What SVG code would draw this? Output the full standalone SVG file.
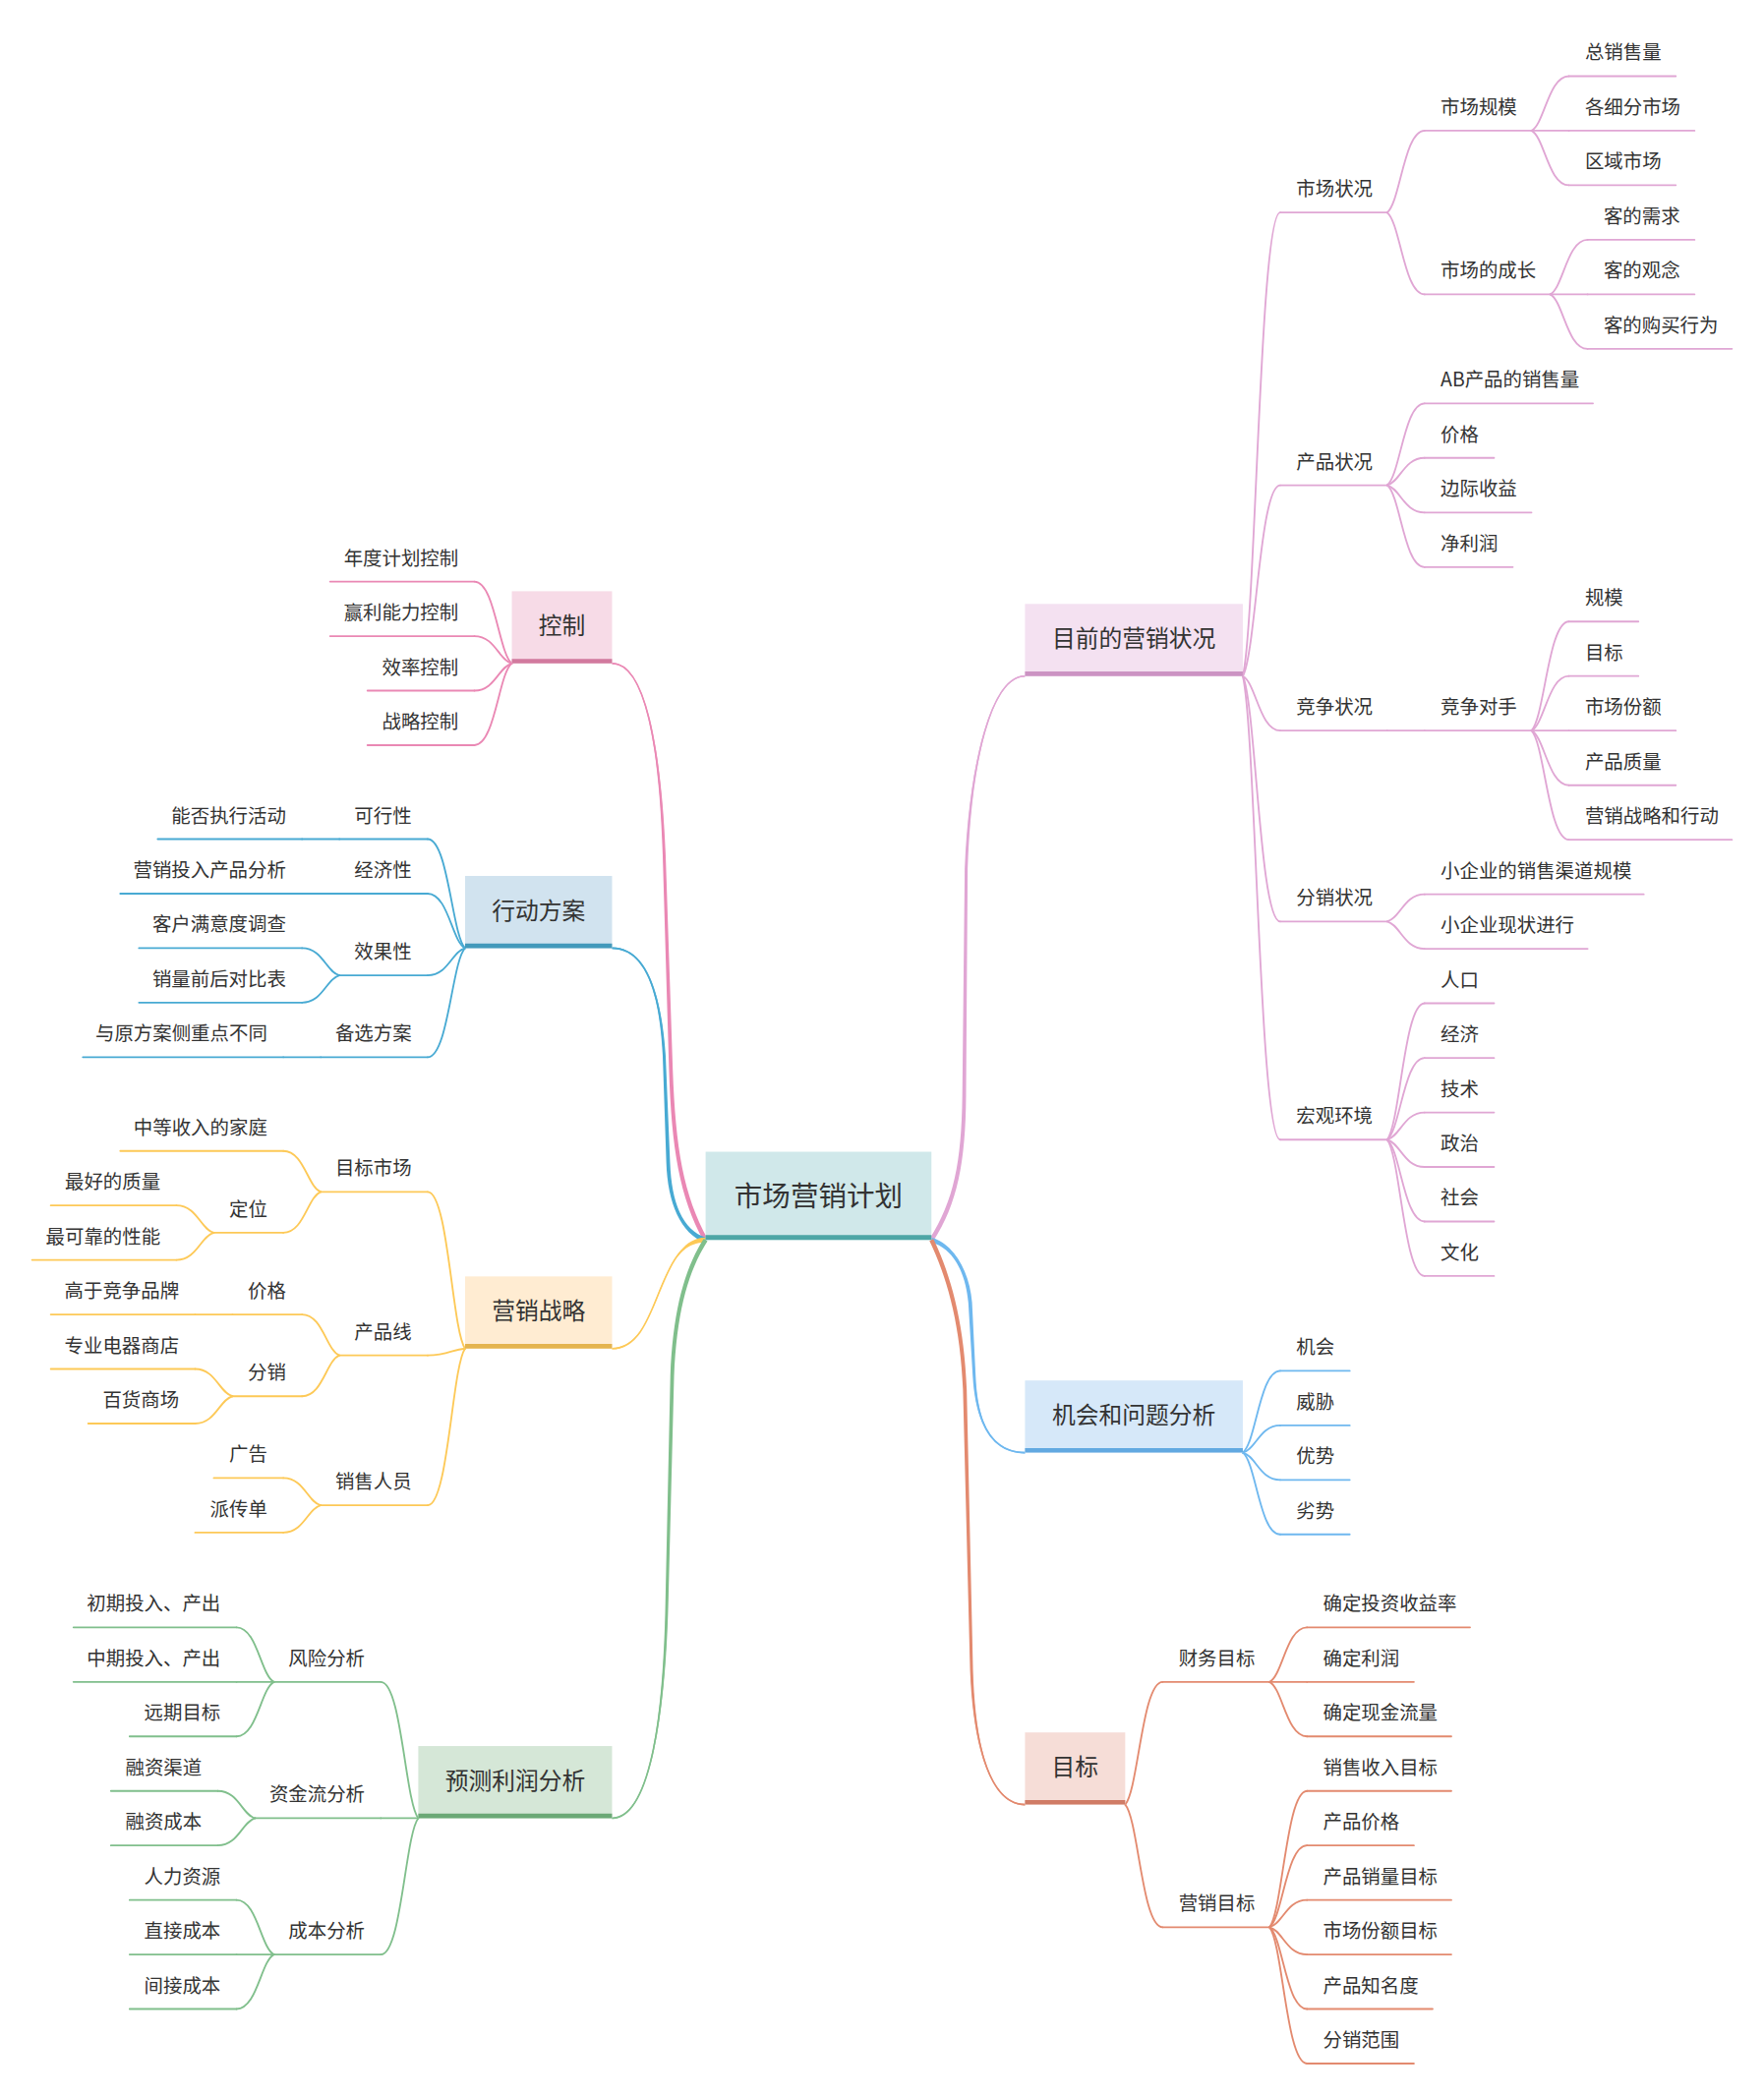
<svg xmlns="http://www.w3.org/2000/svg" width="1794" height="2131" viewBox="0 0 1794 2131">
<style>
text{font-family:"Noto Sans CJK SC","Noto Sans",sans-serif;fill:#333}
.t{font-size:14.3px}
.r{text-anchor:end}
.tm{font-size:17.5px;text-anchor:middle}
.tc{font-size:21px;text-anchor:middle}
.conn path,.ul{fill:none;stroke-width:1.35;stroke-linecap:round}
.ms{fill:none;stroke-width:1.2}
.bl{stroke-width:3.4}
.ca{stroke:#e0a6d4}.cb{stroke:#6fb8ef}.cc{stroke:#e38a6f}.cd{stroke:#ea88b4}.ce{stroke:#48aad3}.cf{stroke:#fdc957}.cg{stroke:#80bf8c}
.fa{fill:#e0a6d4}.fb{fill:#6fb8ef}.fc{fill:#e38a6f}.fd{fill:#ea88b4}.fe{fill:#48aad3}.ff{fill:#fdc957}.fg{fill:#80bf8c}
</style>
<rect width="1794" height="2131" fill="#ffffff"/>
<g transform="scale(1.359091)">
<g id="connectors">
<g id="main-connectors">
<path class="fd" d="M458,497.1 C483,497.1 493.2,560 495.9,640 L500.6,800 C502.5,860 508.5,895.8 526.5,928.8 L529.5,927.2 C511.5,894.2 505.5,860 503.4,800 L498.1,640 C494.8,560 483,495.9 458,495.9 Z"/>
<path class="ms cd" d="M458,496.5 C483,496.5 494,560 497,640 L502,800 C504,860 510,895 528,928"/>
<path class="fe" d="M458,709 C482,709 494.8,740 498.1,790 L501.4,870 C502.5,900 510.54,920.38 528.54,926.38 L527.46,929.62 C509.46,923.62 499.5,900 498.6,870 L495.9,790 C493.2,740 482,710.2 458,710.2 Z"/>
<path class="ms ce" d="M458,709.6 C482,709.6 494,740 497,790 L500,870 C501,900 510,922 528,928"/>
<path class="ff" d="M458,1008.7 C495.8,1008.4 491.5,926.4 528,926.1 L528,929.9 C488.5,929.6 494.2,1010.2 458,1009.9 Z"/>
<path class="ms cf" d="M458,1009.3 C495,1009.3 490,928 528,928"/>
<path class="fg" d="M458,1361.4 C485,1361.4 497.8,1290 500.1,1200 L504.4,1030 C506.5,980 515.4,950.9 529.4,928.9 L526.6,927.1 C512.6,949.1 503.5,980 501.6,1030 L497.9,1200 C496.2,1290 485,1360.2 458,1360.2 Z"/>
<path class="ms cg" d="M458,1360.8 C485,1360.8 497,1290 499,1200 L503,1030 C505,980 514,950 528,928"/>
<path class="fa" d="M767,505.4 C742,505.4 725.2,570 721.9,650 L720.1,820 C719.5,870 713.6,899.1 695.6,927.1 L698.4,928.9 C716.4,900.9 722.5,870 722.9,820 L724.1,650 C726.8,570 742,506.6 767,506.6 Z"/>
<path class="ms ca" d="M767,506 C742,506 726,570 723,650 L721.5,820 C721,870 715,900 697,928"/>
<path class="fb" d="M767,1086.6 C745,1086.6 731.8,1070 730.1,1030 L727.4,975 C725.5,950 712.4,930.4 697.4,926.4 L696.6,929.6 C711.6,933.6 722.5,950 724.6,975 L727.9,1030 C730.2,1070 745,1087.8 767,1087.8 Z"/>
<path class="ms cb" d="M767,1087.2 C745,1087.2 731,1070 729,1030 L726,975 C724,950 712,932 697,928"/>
<path class="fc" d="M767,1350 C742,1350 729.8,1310 728.1,1250 L723.4,1040 C721.5,990 711.5,954.3 698.5,927.3 L695.5,928.7 C708.5,955.7 718.5,990 720.6,1040 L725.9,1250 C728.2,1310 742,1351.2 767,1351.2 Z"/>
<path class="ms cc" d="M767,1350.6 C742,1350.6 729,1310 727,1250 L722,1040 C720,990 710,955 697,928"/>
</g>
<g class="conn">
<path class="ca" d="M930,506 C939.8,464.4 942.6,159.05 958,159.05"/>
<path class="ca" d="M930,506 C939.8,488.9 942.6,363.15 958,363.15"/>
<path class="ca" d="M930,506 C939.8,510.9 942.6,546.8 958,546.8"/>
<path class="ca" d="M930,506 C939.8,528 942.6,689.7 958,689.7"/>
<path class="ca" d="M930,506 C939.8,547.6 942.6,852.95 958,852.95"/>
<path class="ca" d="M1038,159.05 C1047.8,151.7 1050.6,97.8 1066,97.8"/>
<path class="ca" d="M1038,159.05 C1047.8,166.4 1050.6,220.3 1066,220.3"/>
<path class="ca" d="M1146,97.8 C1155.8,92.9 1158.6,57 1174,57"/>
<path class="ca" d="M1146,97.8 L1174,97.8"/>
<path class="ca" d="M1146,97.8 C1155.8,102.7 1158.6,138.6 1174,138.6"/>
<path class="ca" d="M1160,220.3 C1169.8,215.4 1172.6,179.5 1188,179.5"/>
<path class="ca" d="M1160,220.3 L1188,220.3"/>
<path class="ca" d="M1160,220.3 C1169.8,225.2 1172.6,261.1 1188,261.1"/>
<path class="ca" d="M1038,363.15 C1047.8,355.8 1050.6,301.9 1066,301.9"/>
<path class="ca" d="M1038,363.15 C1047.8,360.7 1050.6,342.7 1066,342.7"/>
<path class="ca" d="M1038,363.15 C1047.8,365.6 1050.6,383.6 1066,383.6"/>
<path class="ca" d="M1038,363.15 C1047.8,370.5 1050.6,424.4 1066,424.4"/>
<path class="ca" d="M1038,546.8 L1066,546.8"/>
<path class="ca" d="M1146,546.8 C1155.8,537 1158.6,465.2 1174,465.2"/>
<path class="ca" d="M1146,546.8 C1155.8,541.9 1158.6,506 1174,506"/>
<path class="ca" d="M1146,546.8 L1174,546.8"/>
<path class="ca" d="M1146,546.8 C1155.8,551.7 1158.6,587.7 1174,587.7"/>
<path class="ca" d="M1146,546.8 C1155.8,556.6 1158.6,628.5 1174,628.5"/>
<path class="ca" d="M1038,689.7 C1047.8,687.3 1050.6,669.3 1066,669.3"/>
<path class="ca" d="M1038,689.7 C1047.8,692.1 1050.6,710.1 1066,710.1"/>
<path class="ca" d="M1038,852.95 C1047.8,840.7 1050.6,750.9 1066,750.9"/>
<path class="ca" d="M1038,852.95 C1047.8,845.6 1050.6,791.8 1066,791.8"/>
<path class="ca" d="M1038,852.95 C1047.8,850.5 1050.6,832.6 1066,832.6"/>
<path class="ca" d="M1038,852.95 C1047.8,855.4 1050.6,873.4 1066,873.4"/>
<path class="ca" d="M1038,852.95 C1047.8,860.3 1050.6,914.2 1066,914.2"/>
<path class="ca" d="M1038,852.95 C1047.8,865.2 1050.6,955 1066,955"/>
<path class="cb" d="M930,1087.2 C939.8,1079.9 942.6,1026 958,1026"/>
<path class="cb" d="M930,1087.2 C939.8,1084.8 942.6,1066.8 958,1066.8"/>
<path class="cb" d="M930,1087.2 C939.8,1089.6 942.6,1107.6 958,1107.6"/>
<path class="cb" d="M930,1087.2 C939.8,1094.5 942.6,1148.4 958,1148.4"/>
<path class="cc" d="M842,1350.6 C851.8,1339.6 854.6,1258.8 870,1258.8"/>
<path class="cc" d="M842,1350.6 C851.8,1361.6 854.6,1442.4 870,1442.4"/>
<path class="cc" d="M950,1258.8 C959.8,1253.9 962.6,1218 978,1218"/>
<path class="cc" d="M950,1258.8 L978,1258.8"/>
<path class="cc" d="M950,1258.8 C959.8,1263.7 962.6,1299.6 978,1299.6"/>
<path class="cc" d="M950,1442.4 C959.8,1430.2 962.6,1340.4 978,1340.4"/>
<path class="cc" d="M950,1442.4 C959.8,1435.1 962.6,1381.2 978,1381.2"/>
<path class="cc" d="M950,1442.4 C959.8,1440 962.6,1422 978,1422"/>
<path class="cc" d="M950,1442.4 C959.8,1444.8 962.6,1462.8 978,1462.8"/>
<path class="cc" d="M950,1442.4 C959.8,1449.7 962.6,1503.6 978,1503.6"/>
<path class="cc" d="M950,1442.4 C959.8,1454.6 962.6,1544.4 978,1544.4"/>
<path class="cd" d="M383,496.5 C373.2,489.2 370.4,435.3 355,435.3"/>
<path class="cd" d="M383,496.5 C373.2,494.1 370.4,476.1 355,476.1"/>
<path class="cd" d="M383,496.5 C373.2,498.9 370.4,516.9 355,516.9"/>
<path class="cd" d="M383,496.5 C373.2,503.8 370.4,557.7 355,557.7"/>
<path class="ce" d="M348,709.6 C338.2,699.8 335.4,628 320,628"/>
<path class="ce" d="M348,709.6 C338.2,704.7 335.4,668.8 320,668.8"/>
<path class="ce" d="M348,709.6 C338.2,712 335.4,730 320,730"/>
<path class="ce" d="M348,709.6 C338.2,719.4 335.4,791.2 320,791.2"/>
<path class="ce" d="M254,628 L226,628"/>
<path class="ce" d="M254,668.8 L226,668.8"/>
<path class="ce" d="M254,730 C244.2,727.6 241.4,709.6 226,709.6"/>
<path class="ce" d="M254,730 C244.2,732.4 241.4,750.4 226,750.4"/>
<path class="ce" d="M240,791.2 L212,791.2"/>
<path class="cf" d="M348,1009.3 C338.2,995.2 335.4,892 320,892"/>
<path class="cf" d="M348,1009.3 C338.2,1009.9 335.4,1014.4 320,1014.4"/>
<path class="cf" d="M348,1009.3 C338.2,1023.4 335.4,1126.6 320,1126.6"/>
<path class="cf" d="M240,892 C230.2,888.3 227.4,861.4 212,861.4"/>
<path class="cf" d="M240,892 C230.2,895.7 227.4,922.6 212,922.6"/>
<path class="cf" d="M160,922.6 C150.2,920.2 147.4,902.2 132,902.2"/>
<path class="cf" d="M160,922.6 C150.2,925 147.4,943 132,943"/>
<path class="cf" d="M254,1014.4 C244.2,1010.7 241.4,983.8 226,983.8"/>
<path class="cf" d="M254,1014.4 C244.2,1018.1 241.4,1045 226,1045"/>
<path class="cf" d="M174,983.8 L146,983.8"/>
<path class="cf" d="M174,1045 C164.2,1042.6 161.4,1024.6 146,1024.6"/>
<path class="cf" d="M174,1045 C164.2,1047.4 161.4,1065.4 146,1065.4"/>
<path class="cf" d="M240,1126.6 C230.2,1124.2 227.4,1106.2 212,1106.2"/>
<path class="cf" d="M240,1126.6 C230.2,1129 227.4,1147 212,1147"/>
<path class="cg" d="M313,1360.8 C303.2,1348.6 300.4,1258.8 285,1258.8"/>
<path class="cg" d="M313,1360.8 L285,1360.8"/>
<path class="cg" d="M313,1360.8 C303.2,1373 300.4,1462.8 285,1462.8"/>
<path class="cg" d="M205,1258.8 C195.2,1253.9 192.4,1218 177,1218"/>
<path class="cg" d="M205,1258.8 L177,1258.8"/>
<path class="cg" d="M205,1258.8 C195.2,1263.7 192.4,1299.6 177,1299.6"/>
<path class="cg" d="M191,1360.8 C181.2,1358.4 178.4,1340.4 163,1340.4"/>
<path class="cg" d="M191,1360.8 C181.2,1363.2 178.4,1381.2 163,1381.2"/>
<path class="cg" d="M205,1462.8 C195.2,1457.9 192.4,1422 177,1422"/>
<path class="cg" d="M205,1462.8 L177,1462.8"/>
<path class="cg" d="M205,1462.8 C195.2,1467.7 192.4,1503.6 177,1503.6"/>
</g>
</g>

<g id="n-center"><rect x="528" y="862" width="169" height="66" fill="#d0e8ea"/><line x1="528" y1="926.2" x2="697" y2="926.2" stroke="#4da6a6" stroke-width="3.6"/><text class="tc" x="612.5" y="902.5">市场营销计划</text></g>
<g id="n-a"><rect x="767" y="452" width="163" height="54" fill="#f4e1f1"/><line class="bl" x1="767" y1="504.3" x2="930" y2="504.3" stroke="#cc93c3"/><text class="tm" x="848.5" y="484">目前的营销状况</text></g>
<g id="n-b"><rect x="767" y="1033.2" width="163" height="54" fill="#d6e8f9"/><line class="bl" x1="767" y1="1085.5" x2="930" y2="1085.5" stroke="#62a9e1"/><text class="tm" x="848.5" y="1065.2">机会和问题分析</text></g>
<g id="n-c"><rect x="767" y="1296.6" width="75" height="54" fill="#f6ddd7"/><line class="bl" x1="767" y1="1348.9" x2="842" y2="1348.9" stroke="#d07c66"/><text class="tm" x="804.5" y="1328.6">目标</text></g>
<g id="n-d"><rect x="383" y="442.5" width="75" height="54" fill="#f7dbe7"/><line class="bl" x1="383" y1="494.8" x2="458" y2="494.8" stroke="#d27a9e"/><text class="tm" x="420.5" y="474.5">控制</text></g>
<g id="n-e"><rect x="348" y="655.6" width="110" height="54" fill="#d1e3ef"/><line class="bl" x1="348" y1="707.9" x2="458" y2="707.9" stroke="#4399bb"/><text class="tm" x="403" y="687.6">行动方案</text></g>
<g id="n-f"><rect x="348" y="955.3" width="110" height="54" fill="#ffecd2"/><line class="bl" x1="348" y1="1007.6" x2="458" y2="1007.6" stroke="#e4b44f"/><text class="tm" x="403" y="987.3">营销战略</text></g>
<g id="n-g"><rect x="313" y="1306.8" width="145" height="54" fill="#d5e7d7"/><line class="bl" x1="313" y1="1359.1" x2="458" y2="1359.1" stroke="#6ba976"/><text class="tm" x="385.5" y="1338.8">预测利润分析</text></g>

<g id="n-a1"><line class="ul ca" x1="958" y1="159.05" x2="1038" y2="159.05"/><text class="t" x="970" y="146.55">市场状况</text></g>
<g id="n-a2"><line class="ul ca" x1="958" y1="363.15" x2="1038" y2="363.15"/><text class="t" x="970" y="350.65">产品状况</text></g>
<g id="n-a3"><line class="ul ca" x1="958" y1="546.8" x2="1038" y2="546.8"/><text class="t" x="970" y="534.3">竞争状况</text></g>
<g id="n-a4"><line class="ul ca" x1="958" y1="689.7" x2="1038" y2="689.7"/><text class="t" x="970" y="677.2">分销状况</text></g>
<g id="n-a5"><line class="ul ca" x1="958" y1="852.95" x2="1038" y2="852.95"/><text class="t" x="970" y="840.45">宏观环境</text></g>
<g id="n-a11"><line class="ul ca" x1="1066" y1="97.8" x2="1146" y2="97.8"/><text class="t" x="1078" y="85.3">市场规模</text></g>
<g id="n-a12"><line class="ul ca" x1="1066" y1="220.3" x2="1160" y2="220.3"/><text class="t" x="1078" y="207.8">市场的成长</text></g>
<g id="n-a111"><line class="ul ca" x1="1174" y1="57" x2="1254" y2="57"/><text class="t" x="1186" y="44.5">总销售量</text></g>
<g id="n-a112"><line class="ul ca" x1="1174" y1="97.8" x2="1268" y2="97.8"/><text class="t" x="1186" y="85.3">各细分市场</text></g>
<g id="n-a113"><line class="ul ca" x1="1174" y1="138.6" x2="1254" y2="138.6"/><text class="t" x="1186" y="126.1">区域市场</text></g>
<g id="n-a121"><line class="ul ca" x1="1188" y1="179.5" x2="1268" y2="179.5"/><text class="t" x="1200" y="167">客的需求</text></g>
<g id="n-a122"><line class="ul ca" x1="1188" y1="220.3" x2="1268" y2="220.3"/><text class="t" x="1200" y="207.8">客的观念</text></g>
<g id="n-a123"><line class="ul ca" x1="1188" y1="261.1" x2="1296" y2="261.1"/><text class="t" x="1200" y="248.6">客的购买行为</text></g>
<g id="n-a21"><line class="ul ca" x1="1066" y1="301.9" x2="1192" y2="301.9"/><text class="t" x="1078" y="289.4">AB产品的销售量</text></g>
<g id="n-a22"><line class="ul ca" x1="1066" y1="342.7" x2="1118" y2="342.7"/><text class="t" x="1078" y="330.2">价格</text></g>
<g id="n-a23"><line class="ul ca" x1="1066" y1="383.6" x2="1146" y2="383.6"/><text class="t" x="1078" y="371.1">边际收益</text></g>
<g id="n-a24"><line class="ul ca" x1="1066" y1="424.4" x2="1132" y2="424.4"/><text class="t" x="1078" y="411.9">净利润</text></g>
<g id="n-a31"><line class="ul ca" x1="1066" y1="546.8" x2="1146" y2="546.8"/><text class="t" x="1078" y="534.3">竞争对手</text></g>
<g id="n-a311"><line class="ul ca" x1="1174" y1="465.2" x2="1226" y2="465.2"/><text class="t" x="1186" y="452.7">规模</text></g>
<g id="n-a312"><line class="ul ca" x1="1174" y1="506" x2="1226" y2="506"/><text class="t" x="1186" y="493.5">目标</text></g>
<g id="n-a313"><line class="ul ca" x1="1174" y1="546.8" x2="1254" y2="546.8"/><text class="t" x="1186" y="534.3">市场份额</text></g>
<g id="n-a314"><line class="ul ca" x1="1174" y1="587.7" x2="1254" y2="587.7"/><text class="t" x="1186" y="575.2">产品质量</text></g>
<g id="n-a315"><line class="ul ca" x1="1174" y1="628.5" x2="1296" y2="628.5"/><text class="t" x="1186" y="616">营销战略和行动</text></g>
<g id="n-a41"><line class="ul ca" x1="1066" y1="669.3" x2="1230" y2="669.3"/><text class="t" x="1078" y="656.8">小企业的销售渠道规模</text></g>
<g id="n-a42"><line class="ul ca" x1="1066" y1="710.1" x2="1188" y2="710.1"/><text class="t" x="1078" y="697.6">小企业现状进行</text></g>
<g id="n-a51"><line class="ul ca" x1="1066" y1="750.9" x2="1118" y2="750.9"/><text class="t" x="1078" y="738.4">人口</text></g>
<g id="n-a52"><line class="ul ca" x1="1066" y1="791.8" x2="1118" y2="791.8"/><text class="t" x="1078" y="779.3">经济</text></g>
<g id="n-a53"><line class="ul ca" x1="1066" y1="832.6" x2="1118" y2="832.6"/><text class="t" x="1078" y="820.1">技术</text></g>
<g id="n-a54"><line class="ul ca" x1="1066" y1="873.4" x2="1118" y2="873.4"/><text class="t" x="1078" y="860.9">政治</text></g>
<g id="n-a55"><line class="ul ca" x1="1066" y1="914.2" x2="1118" y2="914.2"/><text class="t" x="1078" y="901.7">社会</text></g>
<g id="n-a56"><line class="ul ca" x1="1066" y1="955" x2="1118" y2="955"/><text class="t" x="1078" y="942.5">文化</text></g>

<g id="n-b1"><line class="ul cb" x1="958" y1="1026" x2="1010" y2="1026"/><text class="t" x="970" y="1013.5">机会</text></g>
<g id="n-b2"><line class="ul cb" x1="958" y1="1066.8" x2="1010" y2="1066.8"/><text class="t" x="970" y="1054.3">威胁</text></g>
<g id="n-b3"><line class="ul cb" x1="958" y1="1107.6" x2="1010" y2="1107.6"/><text class="t" x="970" y="1095.1">优势</text></g>
<g id="n-b4"><line class="ul cb" x1="958" y1="1148.4" x2="1010" y2="1148.4"/><text class="t" x="970" y="1135.9">劣势</text></g>

<g id="n-c1"><line class="ul cc" x1="870" y1="1258.8" x2="950" y2="1258.8"/><text class="t" x="882" y="1246.3">财务目标</text></g>
<g id="n-c2"><line class="ul cc" x1="870" y1="1442.4" x2="950" y2="1442.4"/><text class="t" x="882" y="1429.9">营销目标</text></g>
<g id="n-c11"><line class="ul cc" x1="978" y1="1218" x2="1100" y2="1218"/><text class="t" x="990" y="1205.5">确定投资收益率</text></g>
<g id="n-c12"><line class="ul cc" x1="978" y1="1258.8" x2="1058" y2="1258.8"/><text class="t" x="990" y="1246.3">确定利润</text></g>
<g id="n-c13"><line class="ul cc" x1="978" y1="1299.6" x2="1086" y2="1299.6"/><text class="t" x="990" y="1287.1">确定现金流量</text></g>
<g id="n-c21"><line class="ul cc" x1="978" y1="1340.4" x2="1086" y2="1340.4"/><text class="t" x="990" y="1327.9">销售收入目标</text></g>
<g id="n-c22"><line class="ul cc" x1="978" y1="1381.2" x2="1058" y2="1381.2"/><text class="t" x="990" y="1368.7">产品价格</text></g>
<g id="n-c23"><line class="ul cc" x1="978" y1="1422" x2="1086" y2="1422"/><text class="t" x="990" y="1409.5">产品销量目标</text></g>
<g id="n-c24"><line class="ul cc" x1="978" y1="1462.8" x2="1086" y2="1462.8"/><text class="t" x="990" y="1450.3">市场份额目标</text></g>
<g id="n-c25"><line class="ul cc" x1="978" y1="1503.6" x2="1072" y2="1503.6"/><text class="t" x="990" y="1491.1">产品知名度</text></g>
<g id="n-c26"><line class="ul cc" x1="978" y1="1544.4" x2="1058" y2="1544.4"/><text class="t" x="990" y="1531.9">分销范围</text></g>

<g id="n-d1"><line class="ul cd" x1="247" y1="435.3" x2="355" y2="435.3"/><text class="t r" x="343" y="422.8">年度计划控制</text></g>
<g id="n-d2"><line class="ul cd" x1="247" y1="476.1" x2="355" y2="476.1"/><text class="t r" x="343" y="463.6">赢利能力控制</text></g>
<g id="n-d3"><line class="ul cd" x1="275" y1="516.9" x2="355" y2="516.9"/><text class="t r" x="343" y="504.4">效率控制</text></g>
<g id="n-d4"><line class="ul cd" x1="275" y1="557.7" x2="355" y2="557.7"/><text class="t r" x="343" y="545.2">战略控制</text></g>

<g id="n-e1"><line class="ul ce" x1="254" y1="628" x2="320" y2="628"/><text class="t r" x="308" y="615.5">可行性</text></g>
<g id="n-e11"><line class="ul ce" x1="118" y1="628" x2="226" y2="628"/><text class="t r" x="214" y="615.5">能否执行活动</text></g>
<g id="n-e2"><line class="ul ce" x1="254" y1="668.8" x2="320" y2="668.8"/><text class="t r" x="308" y="656.3">经济性</text></g>
<g id="n-e21"><line class="ul ce" x1="90" y1="668.8" x2="226" y2="668.8"/><text class="t r" x="214" y="656.3">营销投入产品分析</text></g>
<g id="n-e3"><line class="ul ce" x1="254" y1="730" x2="320" y2="730"/><text class="t r" x="308" y="717.5">效果性</text></g>
<g id="n-e31"><line class="ul ce" x1="104" y1="709.6" x2="226" y2="709.6"/><text class="t r" x="214" y="697.1">客户满意度调查</text></g>
<g id="n-e32"><line class="ul ce" x1="104" y1="750.4" x2="226" y2="750.4"/><text class="t r" x="214" y="737.9">销量前后对比表</text></g>
<g id="n-e4"><line class="ul ce" x1="240" y1="791.2" x2="320" y2="791.2"/><text class="t r" x="308" y="778.7">备选方案</text></g>
<g id="n-e41"><line class="ul ce" x1="62" y1="791.2" x2="212" y2="791.2"/><text class="t r" x="200" y="778.7">与原方案侧重点不同</text></g>

<g id="n-f1"><line class="ul cf" x1="240" y1="892" x2="320" y2="892"/><text class="t r" x="308" y="879.5">目标市场</text></g>
<g id="n-f11"><line class="ul cf" x1="90" y1="861.4" x2="212" y2="861.4"/><text class="t r" x="200" y="848.9">中等收入的家庭</text></g>
<g id="n-f12"><line class="ul cf" x1="160" y1="922.6" x2="212" y2="922.6"/><text class="t r" x="200" y="910.1">定位</text></g>
<g id="n-f121"><line class="ul cf" x1="38" y1="902.2" x2="132" y2="902.2"/><text class="t r" x="120" y="889.7">最好的质量</text></g>
<g id="n-f122"><line class="ul cf" x1="24" y1="943" x2="132" y2="943"/><text class="t r" x="120" y="930.5">最可靠的性能</text></g>
<g id="n-f2"><line class="ul cf" x1="254" y1="1014.4" x2="320" y2="1014.4"/><text class="t r" x="308" y="1001.9">产品线</text></g>
<g id="n-f21"><line class="ul cf" x1="174" y1="983.8" x2="226" y2="983.8"/><text class="t r" x="214" y="971.3">价格</text></g>
<g id="n-f211"><line class="ul cf" x1="38" y1="983.8" x2="146" y2="983.8"/><text class="t r" x="134" y="971.3">高于竞争品牌</text></g>
<g id="n-f22"><line class="ul cf" x1="174" y1="1045" x2="226" y2="1045"/><text class="t r" x="214" y="1032.5">分销</text></g>
<g id="n-f221"><line class="ul cf" x1="38" y1="1024.6" x2="146" y2="1024.6"/><text class="t r" x="134" y="1012.1">专业电器商店</text></g>
<g id="n-f222"><line class="ul cf" x1="66" y1="1065.4" x2="146" y2="1065.4"/><text class="t r" x="134" y="1052.9">百货商场</text></g>
<g id="n-f3"><line class="ul cf" x1="240" y1="1126.6" x2="320" y2="1126.6"/><text class="t r" x="308" y="1114.1">销售人员</text></g>
<g id="n-f31"><line class="ul cf" x1="160" y1="1106.2" x2="212" y2="1106.2"/><text class="t r" x="200" y="1093.7">广告</text></g>
<g id="n-f32"><line class="ul cf" x1="146" y1="1147" x2="212" y2="1147"/><text class="t r" x="200" y="1134.5">派传单</text></g>

<g id="n-g1"><line class="ul cg" x1="205" y1="1258.8" x2="285" y2="1258.8"/><text class="t r" x="273" y="1246.3">风险分析</text></g>
<g id="n-g11"><line class="ul cg" x1="55" y1="1218" x2="177" y2="1218"/><text class="t r" x="165" y="1205.5">初期投入、产出</text></g>
<g id="n-g12"><line class="ul cg" x1="55" y1="1258.8" x2="177" y2="1258.8"/><text class="t r" x="165" y="1246.3">中期投入、产出</text></g>
<g id="n-g13"><line class="ul cg" x1="97" y1="1299.6" x2="177" y2="1299.6"/><text class="t r" x="165" y="1287.1">远期目标</text></g>
<g id="n-g2"><line class="ul cg" x1="191" y1="1360.8" x2="285" y2="1360.8"/><text class="t r" x="273" y="1348.3">资金流分析</text></g>
<g id="n-g21"><line class="ul cg" x1="83" y1="1340.4" x2="163" y2="1340.4"/><text class="t r" x="151" y="1327.9">融资渠道</text></g>
<g id="n-g22"><line class="ul cg" x1="83" y1="1381.2" x2="163" y2="1381.2"/><text class="t r" x="151" y="1368.7">融资成本</text></g>
<g id="n-g3"><line class="ul cg" x1="205" y1="1462.8" x2="285" y2="1462.8"/><text class="t r" x="273" y="1450.3">成本分析</text></g>
<g id="n-g31"><line class="ul cg" x1="97" y1="1422" x2="177" y2="1422"/><text class="t r" x="165" y="1409.5">人力资源</text></g>
<g id="n-g32"><line class="ul cg" x1="97" y1="1462.8" x2="177" y2="1462.8"/><text class="t r" x="165" y="1450.3">直接成本</text></g>
<g id="n-g33"><line class="ul cg" x1="97" y1="1503.6" x2="177" y2="1503.6"/><text class="t r" x="165" y="1491.1">间接成本</text></g>
</g>
</svg>
